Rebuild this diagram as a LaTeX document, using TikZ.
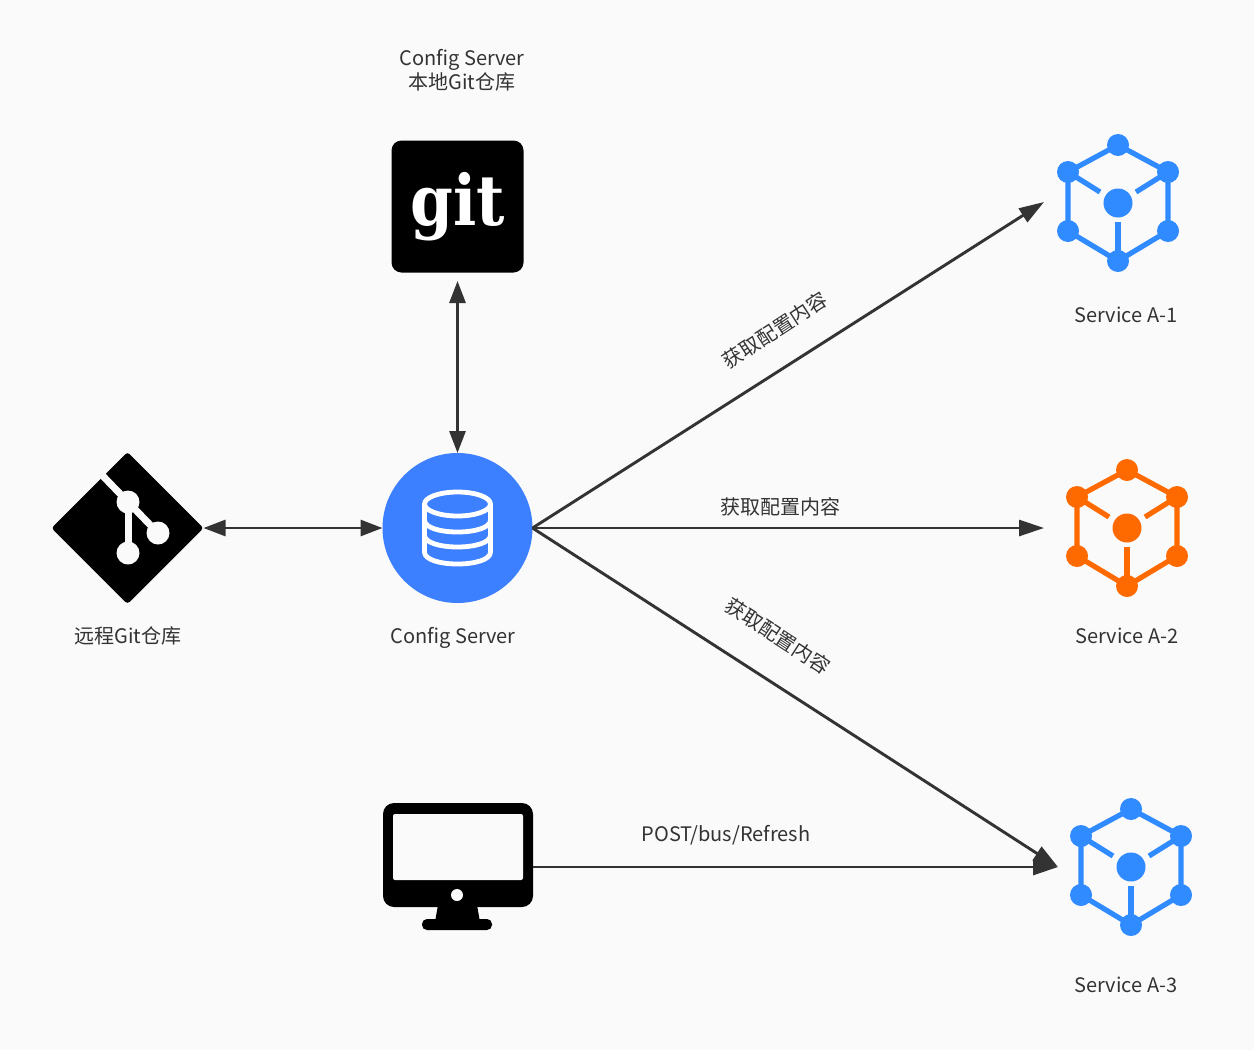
\documentclass[tikz,border=0pt]{standalone}
\usepackage{graphicx}
\usepackage{fontspec}
\setmainfont{Noto Sans CJK SC}
\newfontfamily\gitfont{DejaVu Serif}
\usetikzlibrary{arrows.meta}
\usetikzlibrary{shapes.geometric}
\definecolor{pagebg}{HTML}{FAFAFA}
\definecolor{inkgray}{HTML}{333333}
\definecolor{cfgblue}{HTML}{3D80FF}
\definecolor{svcblue}{HTML}{2F8BFF}
\definecolor{svcorange}{HTML}{FF6A00}
\tikzset{
  flow/.style={line width=2.9pt,draw=inkgray,-{Triangle[length=25pt,width=16pt]}},
  twoway/.style={line width=2.9pt,draw=inkgray,{Triangle[length=22pt,width=16pt]}-{Triangle[length=22pt,width=16pt]}},
  caption/.style={text=inkgray,font=\fontsize{20}{24}\selectfont,align=center,inner sep=0pt},
  serviceicon/.pic={
    \draw[line width=5.2pt,draw=#1,line join=round]
      (0,-58) -- (50,-31) -- (50,28) -- (0,58) -- (-50,28) -- (-50,-31) -- cycle;
    \draw[line width=5.2pt,draw=#1] (-50,-31) -- (-18,-11);
    \draw[line width=5.2pt,draw=#1] (50,-31) -- (18,-11);
    \draw[line width=5.2pt,draw=#1] (0,58) -- (0,19);
    \foreach \x/\y in {0/-58,50/-31,50/28,0/58,-50/28,-50/-31}
    \fill[#1] (\x,\y) circle[radius=11pt];
    \fill[#1] (0,0) circle[radius=14.5pt];
  }
}

\begin{document}
\begin{tikzpicture}[x=1pt,y=-1pt]
    \fill[pagebg] (0,0) rectangle (1254,1050);
    \useasboundingbox (0,0) rectangle (1254,1050);

    % local git repository
    \node[fill=black,rounded corners=10pt,minimum size=132pt,inner sep=0pt,outer sep=0pt,
      text=white,font=\gitfont\bfseries\fontsize{66}{66}\selectfont] (localgit) at (457.5,206.5)
      {\raisebox{-1pt}{\scalebox{0.93}[1.06]{git}}};

    % remote repository
    \node[diamond,fill=black,rounded corners=3pt,minimum width=152pt,minimum height=152pt,
      inner sep=0pt,outer sep=0pt] (remotegit) at (127.5,528) {};
    \draw[line width=7pt,draw=pagebg] (100,473) -- (128,502);
    \draw[line width=7pt,draw=pagebg] (128,502) -- (128,553);
    \draw[line width=7pt,draw=pagebg] (128,502) -- (158,533);
    \foreach \x/\y in {128/502,158/533,128/553}
    \fill[pagebg] (\x,\y) circle[radius=11.5pt];

    % config server
    \node[circle,fill=cfgblue,minimum size=150pt,inner sep=0pt,outer sep=0pt] (cfgserver) at (457.5,528) {};
    \draw[line width=4.8pt,draw=white] (457.5,504) ellipse[x radius=33pt,y radius=12pt];
    \draw[line width=4.8pt,draw=white,line join=round]
      (424.5,504) -- (424.5,552) .. controls (424.5,568) and (490.5,568) .. (490.5,552) -- (490.5,504);
    \foreach \y in {520,535}
    \draw[line width=4.8pt,draw=white] (424.5,\y) .. controls (424.5,\y+16) and (490.5,\y+16) .. (490.5,\y);

    % monitor
    \node[fill=black,rounded corners=11pt,minimum width=150pt,minimum height=104pt,
      inner sep=0pt,outer sep=0pt] (monitor) at (458,855) {};
    \fill[pagebg,rounded corners=2pt] (393,814) rectangle (523,880);
    \fill[pagebg] (457,895) circle[radius=6pt];
    \fill[black] (438,905) -- (477,905) -- (480,922) -- (435,922) -- cycle;
    \fill[black,rounded corners=5pt] (422,919) rectangle (492,930);

    % services
    \pic at (1118,203) {serviceicon=svcblue};
    \pic at (1127,528) {serviceicon=svcorange};
    \pic at (1131,867) {serviceicon=svcblue};

    \coordinate (svcone) at (1044,202);
    \coordinate (svctwo) at (1044,528);
    \coordinate (svcthree) at (1058,867);
    \coordinate (monout) at (533,867);
    \coordinate (localgitin) at (457.5,281);

    \draw[twoway] (localgitin) -- (cfgserver.north);
    \draw[twoway] (remotegit.east) -- (cfgserver.west);
    \draw[flow] (cfgserver.east) -- (svcone);
    \draw[flow] (cfgserver.east) -- (svctwo);
    \draw[flow] (cfgserver.east) -- (svcthree);
    \draw[flow] (monout) -- (svcthree);

    \node[caption] (localcap) at (462,70) {Config Server\\本地Git仓库};
    \node[caption] (remotecap) at (128,636) {远程Git仓库};
    \node[caption] (cfgcap) at (453,638) {Config Server};
    \node[caption] (onecap) at (1126,315) {Service A-1};
    \node[caption] (twocap) at (1127,636) {Service A-2};
    \node[caption] (threecap) at (1126,985) {Service A-3};
    \node[caption,rotate=33] (fetchone) at (775,330) {获取配置内容};
    \node[caption] (fetchtwo) at (780,507) {获取配置内容};
    \node[caption,rotate=-33] (fetchthree) at (778,636) {获取配置内容};
    \node[caption] (refreshcap) at (726,835) {POST/bus/Refresh};

  \end{tikzpicture}
\end{document}
